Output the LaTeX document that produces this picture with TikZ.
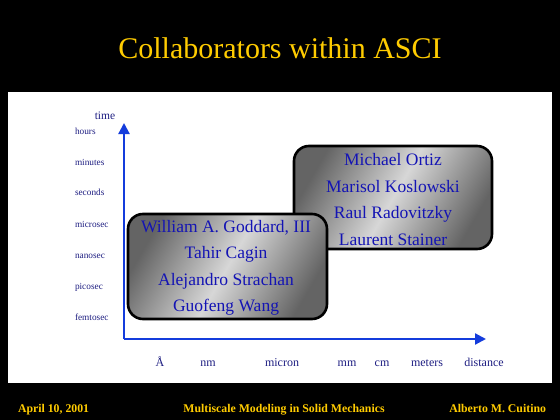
\documentclass[tikz,border=0pt]{standalone}
\usepackage{fontspec}
\setmainfont{Liberation Serif}
\usetikzlibrary{arrows.meta,shadings}
\definecolor{titleyellow}{RGB}{255,204,0}
\definecolor{axisblue}{RGB}{20,60,220}
\definecolor{namesblue}{RGB}{20,20,180}
\definecolor{labelblue}{RGB}{30,30,130}
\definecolor{boxdark}{RGB}{100,100,100}
\definecolor{boxlight}{RGB}{215,215,215}
\tikzset{
  every node/.style={inner sep=0pt, outer sep=0pt},
  axisline/.style={draw=axisblue, line width=2.2pt, -{Triangle[length=11pt,width=11pt]}},
  tlabel/.style={anchor=base west, text=labelblue, font=\fontsize{9.3}{11}\selectfont},
  dlabel/.style={anchor=base, text=labelblue, font=\fontsize{12}{14}\selectfont},
  namebox/.style={draw=black, line width=2.6pt, rounded corners=15pt,
    left color=boxdark, right color=boxdark, middle color=boxlight,
    shading angle=60},
  names/.style={text=namesblue, font=\fontsize{17.5}{20}\selectfont},
  foot/.style={text=titleyellow, font=\fontsize{11.8}{14}\selectfont\bfseries}
}
\begin{document}
\begin{tikzpicture}[x=1pt,y=-1pt]
\fill[black] (0,0) rectangle (560,420);
\useasboundingbox (0,0) rectangle (560,420);
\fill[white] (8,92) rectangle (552,383);
\node[text=titleyellow, font=\fontsize{30}{34}\selectfont] (title) at (280,48) {Collaborators within ASCI};
% axes
\coordinate (origin) at (124,339);
\coordinate (ytop) at (124,123);
\coordinate (xend) at (486,339);
\draw[axisline] (origin) -- (ytop);
\draw[axisline] (origin) -- (xend);
% time labels
\node[text=labelblue, font=\fontsize{11.5}{13}\selectfont] (time) at (105,116) {time};
\node[tlabel] (hours) at (75,134) {hours};
\node[tlabel] (minutes) at (75,165) {minutes};
\node[tlabel] (seconds) at (75,195) {seconds};
\node[tlabel] (microsec) at (75,227) {microsec};
\node[tlabel] (nanosec) at (75,258) {nanosec};
\node[tlabel] (picosec) at (75,289) {picosec};
\node[tlabel] (femtosec) at (75,320) {femtosec};
% distance labels
\node[dlabel] (ang) at (160,366) {Å};
\node[dlabel] (nm) at (208,366) {nm};
\node[dlabel] (micron) at (282,366) {micron};
\node[dlabel] (mm) at (347,366) {mm};
\node[dlabel] (cm) at (382,366) {cm};
\node[dlabel] (meters) at (427,366) {meters};
\node[dlabel] (distance) at (484,366) {distance};
% boxes
\path[namebox] (294,146) rectangle (492,249);
\node[names] (ortiz) at (393,160) {Michael Ortiz};
\node[names] (kos) at (393,187) {Marisol Koslowski};
\node[names] (rad) at (393,214) {Raul Radovitzky};
\node[names] (stai) at (393,240) {Laurent Stainer};
\path[namebox] (128,214) rectangle (327,319);
\node[names] (godd) at (226,228) {William A. Goddard, III};
\node[names] (cagin) at (226,254) {Tahir Cagin};
\node[names] (strach) at (226,281) {Alejandro Strachan};
\node[names] (wang) at (226,307) {Guofeng Wang};
% footer
\node[foot, anchor=base west] (date) at (18,412) {April 10, 2001};
\node[foot, anchor=base] (conf) at (284,412) {Multiscale Modeling in Solid Mechanics};
\node[foot, anchor=base east] (author) at (546,412) {Alberto M. Cuitino};
\end{tikzpicture}
\end{document}
